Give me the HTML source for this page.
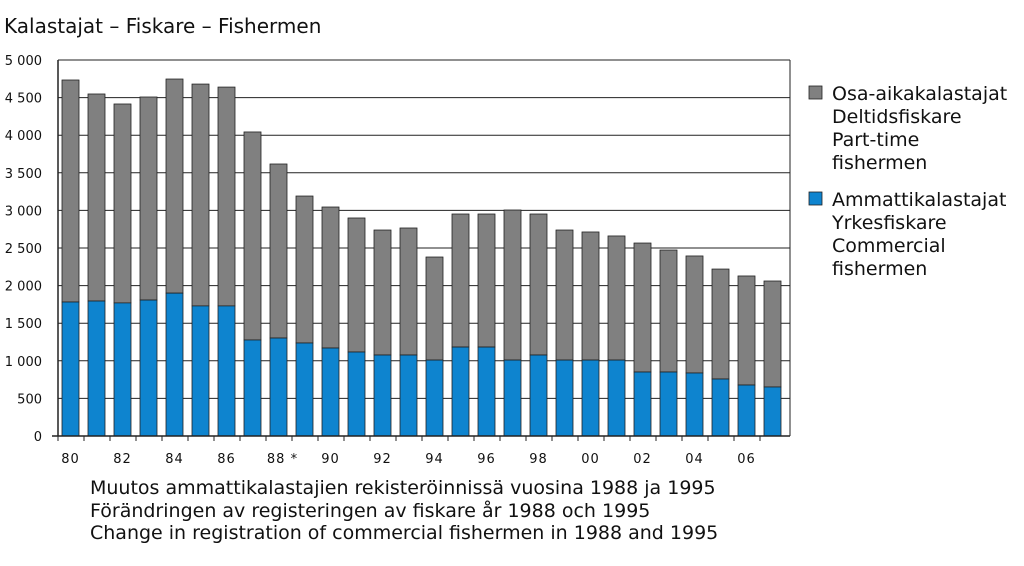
<!DOCTYPE html>
<html><head><meta charset="utf-8"><style>
body{margin:0;background:#fff;font-family:"DejaVu Sans","Liberation Sans",sans-serif;}
svg text{font-family:"DejaVu Sans","Liberation Sans",sans-serif;}
</style></head><body>
<svg id="c" width="1024" height="562">
<text x="4" y="33" font-size="20" fill="#111">Kalastajat – Fiskare – Fishermen</text>
<g id="grid"></g><g id="bars"></g><g id="axes"></g>
<g>
<rect x="809" y="86" width="13" height="13" fill="#808080" stroke="#222" stroke-width="0.8"/>
<text font-size="19" fill="#111"><tspan x="832" y="100">Osa-aikakalastajat</tspan><tspan x="832" y="123">Deltidsfiskare</tspan><tspan x="832" y="146">Part-time</tspan><tspan x="832" y="169">fishermen</tspan></text>
<rect x="809" y="192" width="13" height="13" fill="#0e84cf" stroke="#222" stroke-width="0.8"/>
<text font-size="19" fill="#111"><tspan x="832" y="206">Ammattikalastajat</tspan><tspan x="832" y="229">Yrkesfiskare</tspan><tspan x="832" y="252">Commercial</tspan><tspan x="832" y="275">fishermen</tspan></text>
</g>
<text font-size="19" fill="#111"><tspan x="90" y="494">Muutos ammattikalastajien rekisteröinnissä vuosina 1988 ja 1995</tspan><tspan x="90" y="517">Förändringen av registeringen av fiskare år 1988 och 1995</tspan><tspan x="90" y="539">Change in registration of commercial fishermen in 1988 and 1995</tspan></text>
</svg>
<script>
const years=["80","81","82","83","84","85","86","87","88","89","90","91","92","93","94","95","96","97","98","99","00","01","02","03","04","05","06","07"];
const totals=[4734,4548,4415,4508,4747,4680,4640,4043,3617,3191,3045,2899,2739,2766,2380,2952,2952,3005,2952,2739,2713,2660,2566,2473,2394,2220,2128,2061];
const commercial=[1782,1795,1770,1808,1900,1730,1730,1277,1303,1237,1170,1117,1077,1077,1010,1183,1183,1010,1077,1010,1010,1010,851,851,838,758,678,652];
const yTicks=[0,500,1000,1500,2000,2500,3000,3500,4000,4500,5000];
const xLabels=["80","","82","","84","","86","","88 *","","90","","92","","94","","96","","98","","00","","02","","04","","06",""];
const NS="http://www.w3.org/2000/svg";
const X0=58,X1=790,Y0=436,Y1=60,STEP=26,BW=17;
const y=v=>Y0-(v/5000)*(Y0-Y1);
const x=i=>X0+4+i*STEP;
function mk(tag,attrs,parent){const e=document.createElementNS(NS,tag);for(const k in attrs)e.setAttribute(k,attrs[k]);document.getElementById(parent).appendChild(e);return e;}
yTicks.forEach(t=>{
 const l=mk('line',{x1:X0,x2:X1,y1:y(t),y2:y(t),stroke:'#222','stroke-width':1},'grid');
 
 
 const tx=mk('text',{x:42,y:y(t)+5,'font-size':13,'text-anchor':'end',fill:'#111'},'axes');
 tx.textContent=t===0?'0':(t>=1000?Math.floor(t/1000)+' '+String(t%1000).padStart(3,'0'):String(t));
 
 
});
years.forEach((yr,i)=>{
 const g=mk('rect',{x:x(i),y:y(totals[i]),width:BW,height:y(commercial[i])-y(totals[i]),fill:'#808080',stroke:'#222','stroke-width':0.8},'bars');
 
 
 const b=mk('rect',{x:x(i),y:y(commercial[i]),width:BW,height:Y0-y(commercial[i]),fill:'#0e84cf',stroke:'#222','stroke-width':0.8},'bars');
 
 
 const tk=mk('line',{x1:X0+i*STEP,x2:X0+i*STEP,y1:Y0,y2:Y0+5,stroke:'#222'},'axes');
 
 
 if(xLabels[i]){const t=mk('text',{x:x(i)+BW/2-(xLabels[i].length>2?-4:0),y:463,'font-size':13,'text-anchor':'middle',fill:'#111','letter-spacing':'1'},'axes');
 t.textContent=xLabels[i];
 
 }
});
const ax=mk('line',{x1:X0,x2:X0,y1:Y1,y2:Y0,stroke:'#222','stroke-width':1.5},'axes');


const rx=mk('line',{x1:X1,x2:X1,y1:Y1,y2:Y0,stroke:'#222','stroke-width':1},'axes');


const bx=mk('line',{x1:X0-6,x2:X1,y1:Y0,y2:Y0,stroke:'#222','stroke-width':1.5},'axes');


</script>
</body></html>
